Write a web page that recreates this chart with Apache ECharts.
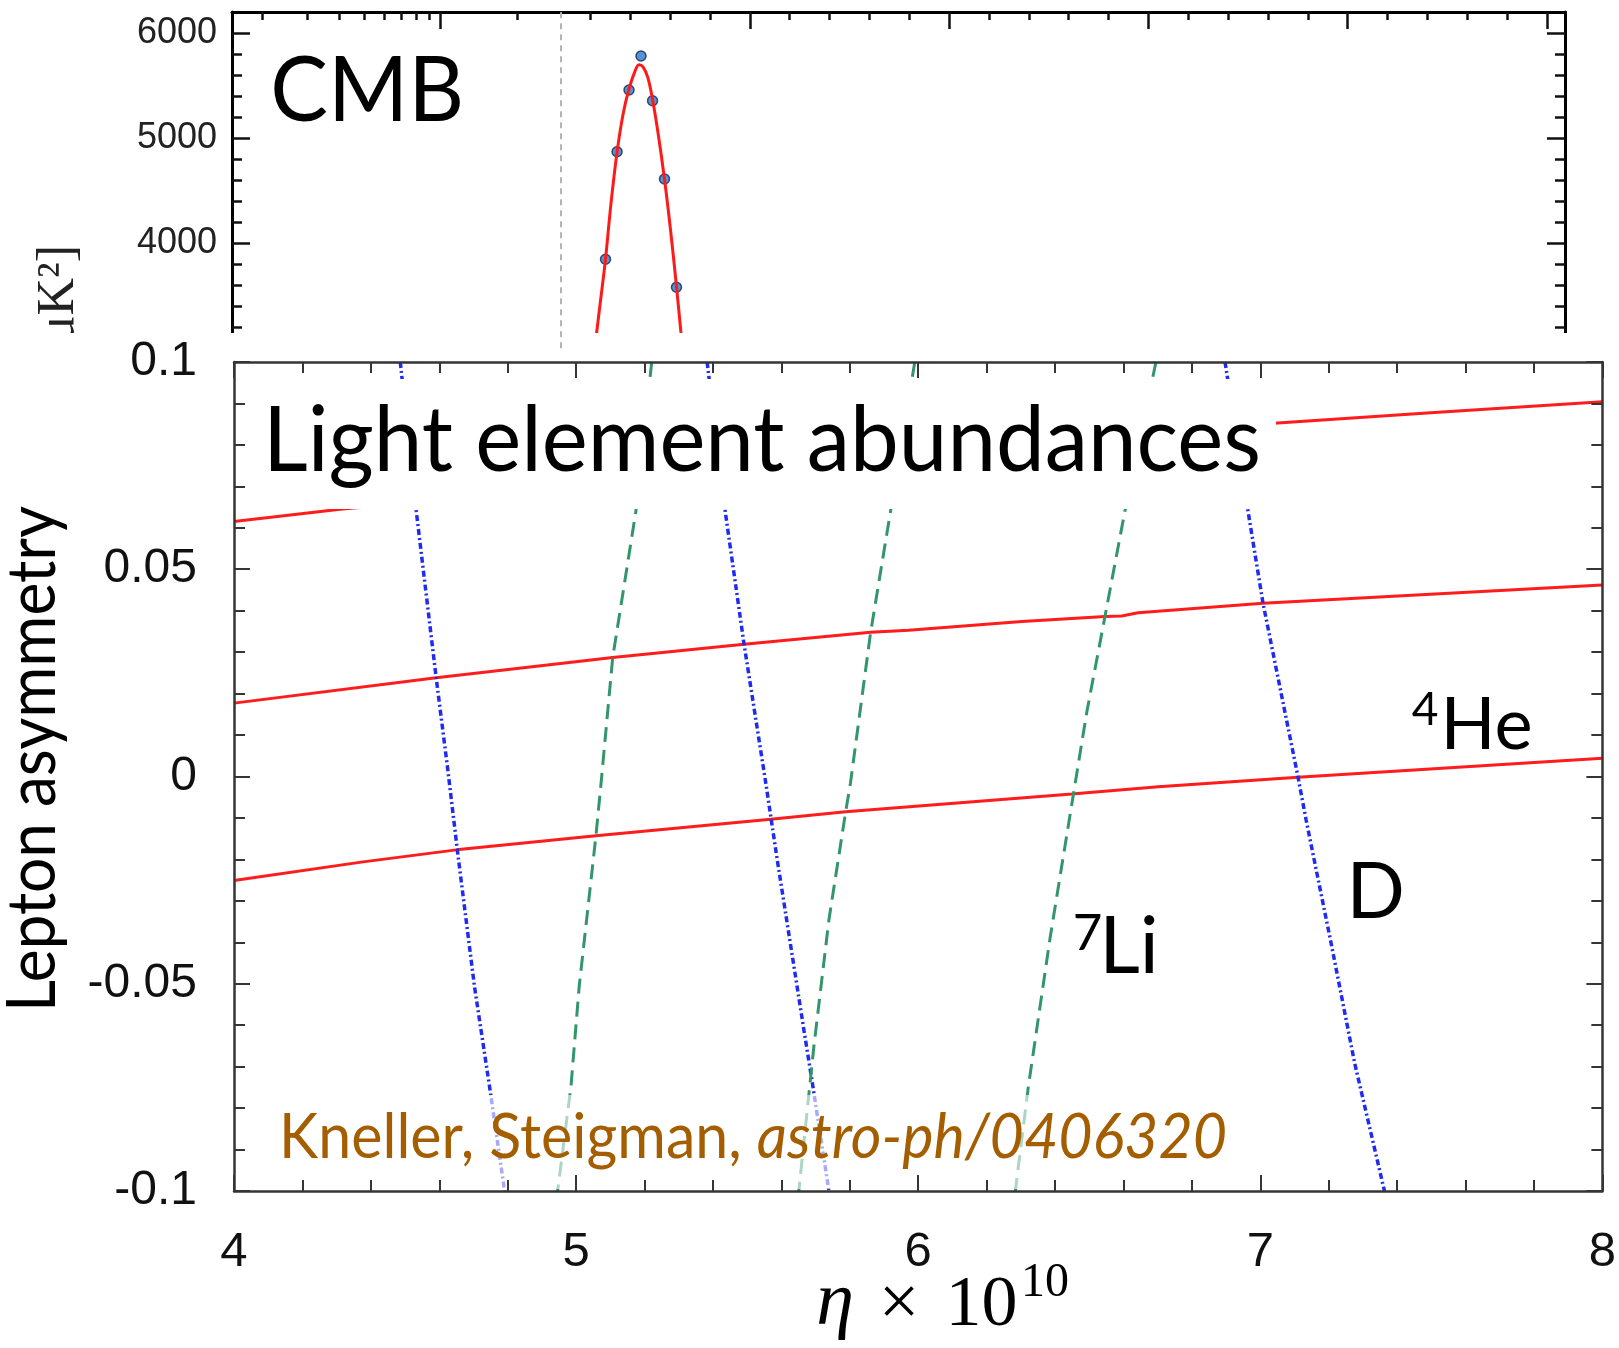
<!DOCTYPE html>
<html>
<head>
<meta charset="utf-8">
<script src="https://cdn.jsdelivr.net/npm/echarts@6/dist/echarts.min.js"></script>
<style>
  html, body { margin: 0; padding: 0; background: #fff; }
  #chart { width: 1619px; height: 1348px; }
</style>
</head>
<body>
<div id="chart"></div>
<script>
// ---------- CMB first acoustic peak (multipole ell, D_ell in muK^2) ----------
const cmbBinEll = [138, 167, 197, 227, 256, 286, 316];
const cmbBinDl  = [3848, 4872, 5460, 5784, 5358, 4612, 3581];
const cmbModelEll = [105, 116, 127, 138, 152, 167, 182, 197, 212, 222, 232, 244, 256, 271, 286, 301, 316, 327, 338];
const cmbModelDl  = [2790, 3158, 3500, 3850, 4390, 4870, 5230, 5470, 5640, 5700, 5680, 5580, 5370, 5020, 4610, 4130, 3590, 3160, 2760];
const cmbLogEdge = 29.5;                       // switch from log to linear ell
const cmbMajorTicks = [10, 500, 1000, 1500, 2000, 2500];
const cmbMinorTicks = [2, 3, 4, 5, 6, 7, 8, 9, 20, 100, 200, 300, 400,
  600, 700, 800, 900, 1100, 1200, 1300, 1400, 1600, 1700, 1800, 1900,
  2100, 2200, 2300, 2400];
const cmbYMajor = [3000, 4000, 5000, 6000];
const cmbYLabels = [4000, 5000, 6000];
const cmbYMinor = [3200, 3400, 3600, 3800, 4200, 4400, 4600, 4800, 5200, 5400, 5600, 5800];

// ---------- BBN contours: [eta x 1e10, lepton asymmetry] ----------
const he4Upper  = [[4.0, 0.0615], [4.31, 0.0645], [7.04, 0.0852], [7.52, 0.0879], [8.0, 0.0904]];
const he4Middle = [[4.0, 0.0177], [4.591, 0.0238], [5.107, 0.0287], [5.491, 0.0319], [5.861, 0.0348],
  [5.972, 0.0353], [6.303, 0.0374], [6.546, 0.0386], [6.595, 0.0387], [6.643, 0.0395],
  [7.008, 0.0418], [8.0, 0.0462]];
const he4Lower  = [[4.0, -0.0251], [4.377, -0.0206], [4.650, -0.0177], [5.058, -0.0143], [5.569, -0.0103],
  [5.788, -0.0085], [6.449, -0.0042], [6.702, -0.0025], [7.110, -0.0002], [8.0, 0.0044]];

const dLeft  = [[4.486, 0.1], [4.533, 0.0639], [4.591, 0.0238], [4.625, 0.0016], [4.654, -0.0185],
  [4.703, -0.0507], [4.747, -0.0748], [4.791, -0.1]];
const dMid   = [[5.383, 0.1], [5.437, 0.0633], [5.491, 0.0319], [5.554, -0.0013], [5.588, -0.0201],
  [5.666, -0.0612], [5.690, -0.0736], [5.739, -0.1]];
const dRight = [[6.897, 0.1], [6.964, 0.0641], [7.008, 0.0418], [7.110, 0.0], [7.134, -0.0105],
  [7.207, -0.0402], [7.276, -0.0692], [7.363, -0.1]];

const li7Left  = [[5.221, 0.1], [5.175, 0.0641], [5.107, 0.0287], [5.073, -0.0016], [5.058, -0.0143],
  [5.009, -0.0507], [4.985, -0.0748], [4.946, -0.1]];
const li7Mid   = [[5.990, 0.1], [5.919, 0.0639], [5.861, 0.0348], [5.802, -0.0016], [5.788, -0.0085],
  [5.739, -0.0346], [5.695, -0.0652], [5.651, -0.1]];
const li7Right = [[6.695, 0.1], [6.604, 0.0639], [6.546, 0.0386], [6.493, 0.0156], [6.459, -0.0016],
  [6.386, -0.0387], [6.322, -0.0748], [6.284, -0.1]];

// ---------- helpers ----------
// The CMB multipole axis is logarithmic below ell = 30 and linear above it.
const LOG_SPLIT = 30, ELL_PER_DECADE = 640;
function ellAxis(l) {
  return l >= LOG_SPLIT ? l : LOG_SPLIT - Math.log10(LOG_SPLIT / l) * ELL_PER_DECADE;
}

const mctx = document.createElement('canvas').getContext('2d');
function widthOf(text, font) { mctx.font = font; return mctx.measureText(text).width; }

const SANS = 'Lato', CAP = 0.7165;
// Text whose cap height and ink width are both given.
function fittedText(o) {
  const size = o.cap / CAP;
  const font = (o.italic ? 'italic ' : '') + '400 ' + size.toFixed(2) + 'px ' + SANS;
  const sx = o.width ? o.width / widthOf(o.text, font) : 1;
  const off = 0.029 * size;
  const rot = o.rotation || 0;
  return {
    type: 'text', z: 20, rotation: rot, scaleX: sx,
    x: rot ? o.cx - off : o.cx, y: rot ? o.cy : o.cy - off,
    style: { text: o.text, font: font, fill: o.color || '#000', align: o.align || 'center', verticalAlign: 'middle' }
  };
}
function serifText(text, size, cx, baseline, opts) {
  opts = opts || {};
  const font = (opts.italic ? 'italic ' : '') + '400 ' + size + 'px "Liberation Serif"';
  return {
    type: 'text', z: opts.z || 20, rotation: opts.rotation || 0,
    x: cx, y: baseline - 0.3375 * size,
    style: { text: text, font: font, fill: '#000', align: opts.align || 'center', verticalAlign: 'middle' }
  };
}

// ---------- graphic overlays ----------
const elements = [];
// backdrop of the headline and of the citation
elements.push({ type: 'rect', z: 5, shape: { x: 250, y: 379, width: 1026, height: 130 }, style: { fill: '#ffffff' } });
elements.push({ type: 'rect', z: 5, shape: { x: 268, y: 1095, width: 968, height: 94 }, style: { fill: 'rgba(255,255,255,0.6)' } });
// gap between the two panels, and the left margin below it
elements.push({ type: 'rect', z: 5, shape: { x: 0, y: 333, width: 1619, height: 28 }, style: { fill: '#ffffff' } });
elements.push({ type: 'rect', z: 5, shape: { x: 0, y: 333, width: 120, height: 120 }, style: { fill: '#ffffff' } });

// upper panel y title (mostly hidden by the lower panel)
elements.push({
  type: 'text', z: 1, rotation: Math.PI / 2, x: 59, y: 245,
  style: { text: '[\u03bcK\u00b2]', font: '400 52px "Liberation Serif"', fill: '#222', align: 'right', verticalAlign: 'middle' }
});

elements.push(fittedText({ text: 'CMB', cap: 65, width: 194, cx: 367.2, cy: 94.2 }));
elements.push(fittedText({ text: 'Light element abundances', cap: 65, width: 998, cx: 762, cy: 444.2 }));
elements.push(fittedText({ text: 'Lepton asymmetry', cap: 48, width: 506, cx: 35.3, cy: 759, rotation: Math.PI / 2 }));

// species labels
elements.push(fittedText({ text: '4', cap: 33, cx: 1425, cy: 711.5 }));
elements.push(fittedText({ text: 'He', cap: 51.7, cx: 1486.5, cy: 727.5 }));
elements.push(fittedText({ text: 'D', cap: 55, cx: 1375.8, cy: 895.8 }));
elements.push(fittedText({ text: '7', cap: 36.6, cx: 1087.5, cy: 935 }));
elements.push(fittedText({ text: 'Li', cap: 56.6, cx: 1129, cy: 950 }));

// citation: regular + italic run
(function () {
  const size = 45 / CAP;
  const fa = '400 ' + size.toFixed(2) + 'px ' + SANS;
  const fb = 'italic 400 ' + size.toFixed(2) + 'px ' + SANS;
  const a = 'Kneller, Steigman, ', b = 'astro-ph/0406320';
  const w = widthOf(a, fa) + widthOf(b, fb);
  elements.push({
    type: 'text', z: 20, x: 279, y: 1139.2 - 0.029 * size, scaleX: 948 / w,
    style: {
      text: '{a|' + a + '}{b|' + b + '}', align: 'left', verticalAlign: 'middle',
      rich: { a: { font: fa, fill: '#a45e00' }, b: { font: fb, fill: '#a45e00' } }
    }
  });
})();

// eta axis title
elements.push(serifText('\u03b7', 76, 835, 1330, { italic: true }));
elements.push(serifText('\u00d7', 72, 899, 1330));
elements.push(serifText('10', 72, 981.5, 1330));
elements.push(serifText('10', 48, 1045, 1300));

// ---------- axes ----------
const frame = '#353535';
const labelFont = { fontFamily: '"Liberation Sans", Arial, sans-serif', color: '#111' };

function bbnX(position, showLabel) {
  return {
    type: 'value', gridIndex: 1, position: position, min: 4, max: 8, interval: 1, z: 10,
    axisLine: { show: true, onZero: false, lineStyle: { color: frame, width: 2.5 } },
    axisTick: { show: true, inside: true, length: 16, lineStyle: { color: frame, width: 2 } },
    minorTick: { show: true, splitNumber: 5, length: 11, lineStyle: { color: frame, width: 2 } },
    axisLabel: Object.assign({ show: showLabel, fontSize: 49, margin: 37, formatter: v => String(v) }, labelFont),
    splitLine: { show: false }
  };
}
function bbnY(position, showLabel) {
  return {
    type: 'value', gridIndex: 1, position: position, min: -0.1, max: 0.1, interval: 0.05, z: 10,
    axisLine: { show: true, onZero: false, lineStyle: { color: frame, width: 2.5 } },
    axisTick: { show: true, inside: true, length: 16, lineStyle: { color: frame, width: 2 } },
    minorTick: { show: true, splitNumber: 5, length: 11, lineStyle: { color: frame, width: 2 } },
    axisLabel: Object.assign({
      show: showLabel, fontSize: 48, margin: 37,
      formatter: v => { const r = Math.round(v * 100) / 100; return r === 0 ? '0' : String(r); }
    }, labelFont),
    splitLine: { show: false }
  };
}
function cmbX(ticks, len, showLine) {
  return {
    type: 'value', gridIndex: 0, position: 'top', min: -799, max: 2545,
    axisLine: { show: showLine, onZero: false, lineStyle: { color: '#000', width: 3 } },
    axisTick: { show: true, inside: true, length: len, customValues: ticks.map(ellAxis), lineStyle: { color: '#111', width: 2.5 } },
    axisLabel: { show: false }, splitLine: { show: false }
  };
}
function cmbY(position, ticks, len, showLine, labels) {
  return {
    type: 'value', gridIndex: 0, position: position, min: 3000, max: 6203,
    axisLine: { show: showLine, onZero: false, lineStyle: { color: '#000', width: 3 } },
    axisTick: { show: true, inside: true, length: len, customValues: ticks, lineStyle: { color: '#111', width: 2.5 } },
    axisLabel: labels ? Object.assign({ show: true, customValues: labels, fontSize: 36, margin: 15, formatter: v => String(v) }, labelFont, { color: '#222' })
                      : { show: false },
    splitLine: { show: false }
  };
}

// ---------- series ----------
const RED = '#ff1c1c', BLUE = '#1f2cf0', GREEN = '#32966a';
const DASH_DOT = [6, 3, 2, 3], DASHED = [15, 8];
function contour(data, color, type, width) {
  return {
    type: 'line', xAxisIndex: 0, yAxisIndex: 0, data: data, showSymbol: false, symbol: 'none',
    clip: true, lineStyle: { color: color, width: width, type: type }, silent: true
  };
}

const option = {
  animation: false,
  backgroundColor: '#ffffff',
  grid: [
    { left: 232, top: 12, width: 1333, height: 336.3 },
    { left: 234, top: 362, width: 1371, height: 829 }
  ],
  xAxis: [
    bbnX('bottom', true),
    bbnX('top', false),
    cmbX(cmbMajorTicks, 17, true),
    cmbX(cmbMinorTicks, 8, false)
  ],
  yAxis: [
    bbnY('left', true),
    bbnY('right', false),
    cmbY('left', cmbYMajor, 18, true, cmbYLabels),
    cmbY('left', cmbYMinor, 10, false, null),
    cmbY('right', cmbYMajor, 18, true, null),
    cmbY('right', cmbYMinor, 10, false, null)
  ],
  series: [
    {
      type: 'line', xAxisIndex: 2, yAxisIndex: 2, smooth: 0.35, showSymbol: false, symbol: 'none', clip: true,
      data: cmbModelEll.map((l, i) => [ellAxis(l), cmbModelDl[i]]),
      lineStyle: { color: '#ff1a1a', width: 3 },
      markLine: {
        silent: true, symbol: 'none', label: { show: false },
        lineStyle: { color: '#b4b4b4', width: 2, type: [6, 5] },
        data: [{ xAxis: ellAxis(cmbLogEdge) }]
      }
    },
    {
      type: 'scatter', xAxisIndex: 2, yAxisIndex: 2, symbol: 'circle', symbolSize: 10, clip: true,
      data: cmbBinEll.map((l, i) => [ellAxis(l), cmbBinDl[i]]),
      itemStyle: { color: '#2a78cc', borderColor: '#0e2b52', borderWidth: 1.5 }
    },
    contour(he4Upper, RED, 'solid', 3),
    contour(he4Middle, RED, 'solid', 3),
    contour(he4Lower, RED, 'solid', 3),
    contour(dLeft, BLUE, DASH_DOT, 3.5),
    contour(dMid, BLUE, DASH_DOT, 3.5),
    contour(dRight, BLUE, DASH_DOT, 3.5),
    contour(li7Left, GREEN, DASHED, 3),
    contour(li7Mid, GREEN, DASHED, 3),
    contour(li7Right, GREEN, DASHED, 3)
  ],
  graphic: { elements: elements }
};

const chart = echarts.init(document.getElementById('chart'), null, { renderer: 'canvas' });
chart.setOption(option);
</script>
</body>
</html>
